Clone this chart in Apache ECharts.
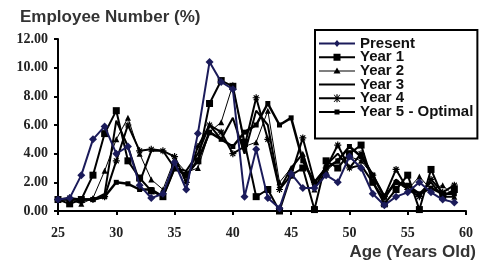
<!DOCTYPE html>
<html><head><meta charset="utf-8">
<script src="https://cdn.jsdelivr.net/npm/echarts@6/dist/echarts.min.js"></script>
<style>html,body{margin:0;padding:0;background:#fff}#c{width:479px;height:264px}</style>
</head><body><div id="c"></div>
<script>
const ages = [25,26,27,28,29,30,31,32,33,34,35,36,37,38,39,40,41,42,43,44,45,46,47,48,49,50,51,52,53,54,55,56,57,58,59];
const present = [0.8,0.9,2.5,5.0,5.9,4.0,4.5,1.8,0.9,1.2,3.4,1.5,5.4,10.4,9.0,8.5,1.0,4.3,0.9,0.2,2.6,1.6,1.6,2.5,2.0,3.8,3.0,1.2,0.4,1.0,1.3,2.0,1.3,0.8,0.6];
const year1 = [0.8,0.5,0.8,2.5,5.4,7.0,3.5,2.3,1.4,1.0,3.0,2.5,3.5,7.5,9.1,8.7,4.8,1.0,1.5,0.0,2.5,3.0,0.1,3.5,3.0,4.0,4.6,2.0,0.5,1.5,2.5,0.1,2.9,1.0,1.5];
const year2 = [0.8,0.8,0.5,0.9,2.8,5.0,6.5,4.0,2.2,1.5,3.6,2.7,3.0,5.5,6.2,8.8,4.5,4.8,7.0,2.0,3.0,4.0,1.5,2.8,3.5,3.8,3.5,2.5,1.0,2.0,1.5,2.4,1.5,1.8,1.0];
const year3 = [0.8,0.8,0.8,0.8,1.2,6.3,4.5,2.0,4.2,4.2,3.0,2.8,4.0,6.0,5.0,6.5,4.0,7.0,6.0,1.5,3.0,4.0,1.5,3.2,4.0,3.0,3.2,2.0,0.8,2.2,1.5,1.2,2.0,1.0,1.0];
const year4 = [0.8,0.9,0.8,0.8,1.0,3.5,6.0,4.2,4.3,4.2,3.8,2.0,4.5,6.0,5.5,4.0,4.5,7.9,5.0,1.5,2.5,5.1,2.0,3.0,4.6,3.0,4.0,2.5,1.0,2.9,1.5,1.0,2.2,1.3,1.8];
const year5 = [0.8,0.8,0.8,0.8,1.0,2.0,1.9,1.5,1.5,1.0,3.0,2.5,3.5,5.5,5.0,4.5,5.5,6.0,7.5,6.0,6.5,3.5,2.0,3.0,3.5,4.5,3.8,2.5,1.0,2.0,1.8,1.2,1.6,1.2,1.2];
const seriesNames = ['Present','Year 1','Year 2','Year 3','Year 4','Year 5 - Optimal'];
const xTicks = [25,30,35,40,45,50,55,60];
const yTicks = [0,2,4,6,8,10,12];

const pairs = arr => ages.map((a,i)=>[a,arr[i]]);
const asterisk = 'path://M0,5L10,5M5,0L5,10M1.5,1.5L8.5,8.5M8.5,1.5L1.5,8.5';

// legend icons (36x12 box)
const corners = 'M0,0L0.01,0L0,0.01Z M36,12L35.99,12L36,11.99Z ';
const thick = 'M0,5L36,5L36,7L0,7Z ';
const thin = 'M0,5.5L36,5.5L36,6.5L0,6.5Z ';
const icons = [
  'path://' + corners + thick + 'M18,2.5L21,6L18,9.5L15,6Z',
  'path://' + corners + thick + 'M14.5,2.5L21.5,2.5L21.5,9.5L14.5,9.5Z',
  'path://' + corners + thin + 'M18,2.5L21.5,8.5L14.5,8.5Z',
  'path://' + corners + thick,
  'path://' + corners + thick + 'M17.4,2L18.6,2L18.6,10L17.4,10Z M14.6,2.4L15.6,2.4L21.4,9.6L20.4,9.6Z M20.4,2.4L21.4,2.4L15.6,9.6L14.6,9.6Z',
  'path://' + corners + thick + 'M15.5,3.5L20.5,3.5L20.5,8.5L15.5,8.5Z'
];

const cfg = [
  {data:present, color:'#1b1b5a', symbol:'diamond', size:8, lw:2},
  {data:year1, color:'#000', symbol:'rect', size:7, lw:2},
  {data:year2, color:'#000', symbol:'triangle', size:6, lw:1},
  {data:year3, color:'#000', symbol:'none', size:0, lw:2},
  {data:year4, color:'#000', symbol:asterisk, size:7, lw:2, stroke:true},
  {data:year5, color:'#000', symbol:'rect', size:5, lw:2.5}
];
const chart = echarts.init(document.getElementById('c'));
chart.setOption({
  animation:false,
  backgroundColor:'#fff',
  title:{text:'Employee Number (%)', left:15, top:4,
    textStyle:{fontFamily:'Liberation Sans, Arial', fontWeight:'bold', fontSize:17, color:'#333'}},
  grid:{left:58, right:12, top:39, bottom:53},
  xAxis:{type:'value', min:25, max:60, interval:5,
    name:'Age (Years Old)', nameLocation:'end', nameGap:0,
    nameTextStyle:{fontFamily:'Liberation Sans, Arial', fontWeight:'bold', fontSize:17, color:'#333',
      align:'right', verticalAlign:'top', padding:[33,-10,0,0]},
    axisLine:{lineStyle:{color:'#000', width:2}},
    axisTick:{show:true, length:4, lineStyle:{color:'#000', width:2}},
    axisLabel:{fontFamily:'Liberation Serif, Times New Roman', fontWeight:'bold', fontSize:14, color:'#222', margin:15,
      formatter:v=> xTicks.includes(v)? String(v):''},
    splitLine:{show:false}},
  yAxis:{type:'value', min:0, max:12, interval:2,
    axisLine:{show:true, lineStyle:{color:'#000', width:2}},
    axisTick:{show:true, length:4, lineStyle:{color:'#000', width:2}},
    axisLabel:{fontFamily:'Liberation Serif, Times New Roman', fontWeight:'bold', fontSize:14, color:'#222', margin:10,
      formatter:v=> yTicks.includes(v)? v.toFixed(2):''},
    splitLine:{show:false}},
  legend:{orient:'vertical', left:315, top:30, itemGap:-1.3,
    itemWidth:36, itemHeight:12, padding:[6,4,19,4], symbolKeepAspect:false,
    borderColor:'#000', borderWidth:2, backgroundColor:'#fff',
    itemStyle:{borderWidth:0},
    textStyle:{fontFamily:'Liberation Sans, Arial', fontWeight:'bold', fontSize:15, lineHeight:13, color:'#111'},
    data:seriesNames.map((n,i)=>({name:n, icon:icons[i]}))},
  series: cfg.map((c,i)=>({
    name:seriesNames[i], type:'line', data:pairs(c.data),
    symbol:c.symbol, symbolSize:c.size, showSymbol:c.symbol!=='none',
    lineStyle:{color:c.color, width:c.lw},
    itemStyle: c.stroke ? {color:'#000', borderColor:'#000', borderWidth:1.2} : {color:c.color},
    z: 10-i
  }))
});
</script></body></html>
